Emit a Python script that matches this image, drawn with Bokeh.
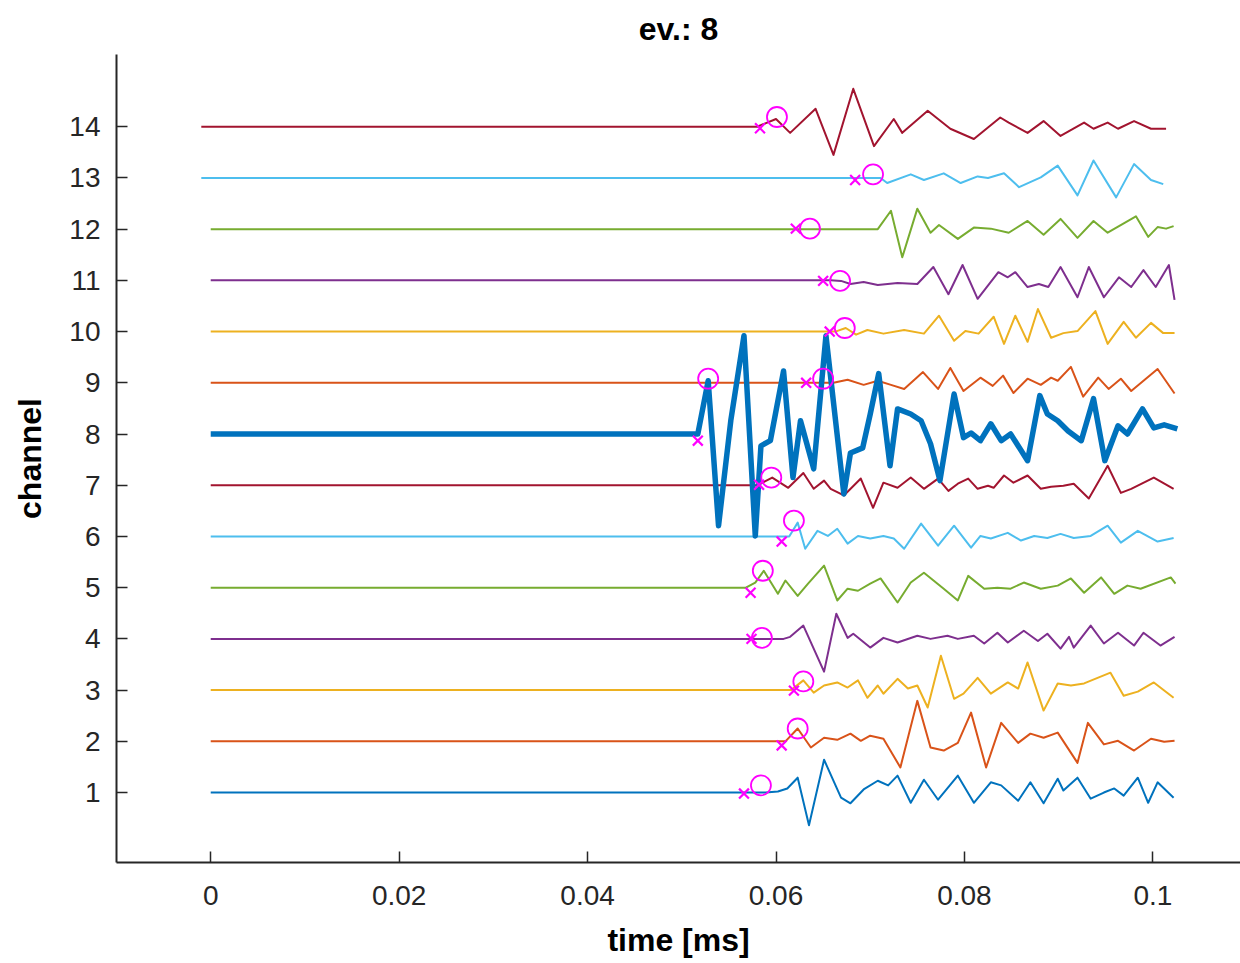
from bokeh.plotting import figure
from bokeh.models import Range1d, FixedTicker, CustomJSTickFormatter, Title
from bokeh.embed import file_html
from bokeh.resources import INLINE

# ---- data (time in ms, amplitude in channel units relative to baseline) ----
channels = list(range(1, 15))
colors = ["#0072BD", "#D95319", "#EDB120", "#7E2F8E", "#77AC30", "#4DBEEE", "#A2142F",
          "#0072BD", "#D95319", "#EDB120", "#7E2F8E", "#77AC30", "#4DBEEE", "#A2142F"]

ch1_t = [0.0, 0.0589, 0.0602, 0.0612, 0.0623, 0.0635, 0.0651, 0.0669, 0.0679, 0.0693, 0.0708, 0.0719, 0.0729, 0.0743, 0.0757, 0.0772, 0.0793, 0.0810, 0.0828, 0.0839, 0.0857, 0.0870, 0.0884, 0.0899, 0.0905, 0.0920, 0.0934, 0.0948, 0.0959, 0.0969, 0.0984, 0.0995, 0.1005, 0.1022]
ch1_a = [0, 0, 0.02, 0.08, 0.29, -0.64, 0.64, -0.10, -0.21, 0.06, 0.23, 0.14, 0.33, -0.20, 0.25, -0.14, 0.33, -0.20, 0.20, 0.14, -0.16, 0.20, -0.21, 0.27, 0.04, 0.29, -0.12, 0, 0.08, -0.06, 0.29, -0.20, 0.20, -0.10]
ch2_t = [0.0, 0.0610, 0.0623, 0.0637, 0.0651, 0.0665, 0.0679, 0.0690, 0.0700, 0.0714, 0.0732, 0.0750, 0.0764, 0.0778, 0.0793, 0.0807, 0.0823, 0.0839, 0.0857, 0.0870, 0.0884, 0.0899, 0.0920, 0.0931, 0.0948, 0.0963, 0.0980, 0.0998, 0.1012, 0.1023]
ch2_a = [0, 0, 0.25, -0.12, 0.07, 0.03, 0.15, 0.01, 0.11, 0.05, -0.51, 0.79, -0.12, -0.18, -0.03, 0.56, -0.51, 0.36, -0.03, 0.15, 0.07, 0.17, -0.42, 0.36, -0.06, 0.01, -0.18, 0.05, -0.01, 0.01]
ch3_t = [0.0, 0.0616, 0.0629, 0.0640, 0.0651, 0.0665, 0.0676, 0.0687, 0.0697, 0.0708, 0.0714, 0.0729, 0.0740, 0.0750, 0.0761, 0.0775, 0.0789, 0.0799, 0.0814, 0.0828, 0.0846, 0.0857, 0.0867, 0.0884, 0.0899, 0.0913, 0.0927, 0.0955, 0.0969, 0.0984, 0.1001, 0.1022]
ch3_a = [0, 0, 0.19, -0.05, 0.09, 0.15, 0.05, 0.19, -0.15, 0.09, -0.07, 0.22, 0.03, 0.09, -0.34, 0.67, -0.17, -0.07, 0.24, -0.07, 0.15, 0.03, 0.54, -0.40, 0.13, 0.09, 0.13, 0.34, -0.11, -0.03, 0.15, -0.15]
ch4_t = [0.0, 0.0608, 0.0615, 0.0629, 0.0651, 0.0664, 0.0676, 0.0682, 0.0700, 0.0714, 0.0729, 0.0750, 0.0764, 0.0782, 0.0793, 0.0810, 0.0821, 0.0835, 0.0846, 0.0863, 0.0878, 0.0888, 0.0902, 0.0911, 0.0916, 0.0934, 0.0948, 0.0963, 0.0980, 0.0990, 0.1008, 0.1023]
ch4_a = [0, 0, 0.04, 0.26, -0.64, 0.49, 0.02, 0.10, -0.17, 0.02, -0.07, 0.06, 0, 0.06, 0, 0.06, -0.09, 0.12, -0.07, 0.16, -0.04, 0.10, -0.19, 0.04, -0.17, 0.26, -0.09, 0.12, -0.13, 0.12, -0.13, 0.04]
ch5_t = [0.0, 0.0568, 0.0578, 0.0587, 0.0602, 0.0610, 0.0623, 0.0634, 0.0651, 0.0665, 0.0676, 0.0687, 0.0700, 0.0711, 0.0729, 0.0743, 0.0757, 0.0778, 0.0793, 0.0804, 0.0821, 0.0835, 0.0849, 0.0863, 0.0881, 0.0899, 0.0913, 0.0927, 0.0945, 0.0959, 0.0973, 0.0987, 0.1019, 0.1024]
ch5_a = [0, 0, 0.10, 0.33, -0.12, 0.14, -0.16, 0.08, 0.43, -0.25, -0.02, -0.06, 0.08, 0.18, -0.29, 0.10, 0.29, -0.02, -0.25, 0.23, -0.02, 0, -0.02, 0.10, -0.02, 0.04, 0.18, -0.10, 0.20, -0.12, 0.04, -0.02, 0.20, 0.08]
ch6_t = [0.0, 0.0614, 0.0623, 0.0631, 0.0644, 0.0655, 0.0665, 0.0676, 0.0687, 0.0700, 0.0714, 0.0725, 0.0736, 0.0754, 0.0772, 0.0789, 0.0807, 0.0817, 0.0828, 0.0846, 0.0860, 0.0874, 0.0888, 0.0902, 0.0916, 0.0934, 0.0952, 0.0966, 0.0984, 0.1005, 0.1022]
ch6_a = [0, 0, 0.27, -0.24, 0.11, 0.01, 0.15, -0.14, 0.01, -0.04, 0.01, -0.04, -0.24, 0.25, -0.18, 0.21, -0.22, 0.01, -0.04, 0.07, -0.08, 0.01, -0.03, 0.05, -0.03, 0.01, 0.21, -0.12, 0.11, -0.10, -0.03]
ch7_t = [0.0, 0.0580, 0.0596, 0.0613, 0.0629, 0.0640, 0.0651, 0.0658, 0.0672, 0.0690, 0.0703, 0.0714, 0.0729, 0.0743, 0.0757, 0.0772, 0.0783, 0.0793, 0.0804, 0.0814, 0.0825, 0.0831, 0.0842, 0.0852, 0.0867, 0.0881, 0.0892, 0.0905, 0.0916, 0.0932, 0.0952, 0.0966, 0.0977, 0.1001, 0.1022]
ch7_a = [0, 0, 0.15, -0.05, 0.24, -0.07, 0.09, -0.07, -0.20, 0.13, -0.44, 0.05, -0.05, 0.15, -0.07, 0.13, -0.11, 0.03, 0.13, -0.07, -0.01, -0.05, 0.19, 0.05, 0.19, -0.07, -0.03, -0.01, 0.03, -0.26, 0.38, -0.15, -0.07, 0.15, -0.07]
ch8_t = [0.0, 0.0517, 0.0528, 0.0539, 0.0552, 0.0566, 0.0578, 0.0584, 0.0594, 0.0608, 0.0618, 0.0626, 0.0640, 0.0653, 0.0672, 0.0679, 0.0692, 0.0700, 0.0709, 0.0721, 0.0729, 0.0743, 0.0754, 0.0764, 0.0774, 0.0789, 0.0799, 0.0807, 0.0817, 0.0828, 0.0839, 0.0849, 0.0867, 0.0880, 0.0888, 0.0899, 0.0910, 0.0924, 0.0937, 0.0949, 0.0963, 0.0973, 0.0989, 0.1001, 0.1012, 0.1026]
ch8_a = [0, 0, 1.04, -1.79, 0.26, 1.92, -1.99, -0.23, -0.13, 1.23, -0.85, 0.26, -0.68, 1.92, -1.17, -0.37, -0.27, 0.39, 1.18, -0.62, 0.49, 0.39, 0.26, -0.19, -0.91, 0.78, -0.07, 0.02, -0.13, 0.20, -0.13, 0, -0.52, 0.75, 0.39, 0.26, 0.06, -0.13, 0.69, -0.52, 0.16, 0, 0.49, 0.12, 0.18, 0.10]
ch9_t = [0.0, 0.0661, 0.0676, 0.0693, 0.0708, 0.0722, 0.0736, 0.0756, 0.0772, 0.0785, 0.0799, 0.0817, 0.0830, 0.0841, 0.0852, 0.0867, 0.0881, 0.0892, 0.0899, 0.0913, 0.0926, 0.0942, 0.0953, 0.0966, 0.0977, 0.1005, 0.1023]
ch9_a = [0, 0, 0.06, -0.04, 0.04, -0.04, -0.12, 0.21, -0.12, 0.29, -0.16, 0.10, -0.06, 0.14, -0.20, 0.08, -0.04, 0.10, 0.04, 0.31, -0.27, 0.10, -0.12, 0.08, -0.16, 0.27, -0.21]
ch10_t = [0.0, 0.0663, 0.0674, 0.0685, 0.0697, 0.0714, 0.0736, 0.0757, 0.0773, 0.0789, 0.0801, 0.0815, 0.0831, 0.0842, 0.0854, 0.0867, 0.0878, 0.0892, 0.0905, 0.0920, 0.0939, 0.0952, 0.0969, 0.0982, 0.0998, 0.1011, 0.1023]
ch10_a = [0, 0, 0.07, -0.06, 0.03, -0.04, 0.03, -0.04, 0.31, -0.18, 0.01, -0.04, 0.29, -0.24, 0.31, -0.20, 0.44, -0.12, -0.03, 0.01, 0.40, -0.24, 0.19, -0.12, 0.17, -0.03, -0.03]
ch11_t = [0.0, 0.0658, 0.0669, 0.0679, 0.0693, 0.0708, 0.0729, 0.0750, 0.0767, 0.0783, 0.0798, 0.0814, 0.0836, 0.0846, 0.0854, 0.0867, 0.0879, 0.0889, 0.0902, 0.0920, 0.0932, 0.0948, 0.0964, 0.0977, 0.0990, 0.1003, 0.1017, 0.1023]
ch11_a = [0, 0, -0.01, -0.07, -0.03, -0.09, -0.05, -0.07, 0.26, -0.27, 0.30, -0.36, 0.16, 0.06, 0.16, -0.13, -0.07, -0.13, 0.26, -0.33, 0.26, -0.33, 0.06, -0.13, 0.20, -0.13, 0.30, -0.38]
ch12_t = [0.0, 0.0708, 0.0722, 0.0734, 0.0750, 0.0764, 0.0773, 0.0793, 0.0810, 0.0828, 0.0847, 0.0867, 0.0884, 0.0902, 0.0920, 0.0937, 0.0952, 0.0982, 0.0995, 0.1005, 0.1014, 0.1022]
ch12_a = [0, 0, 0.36, -0.55, 0.40, -0.07, 0.08, -0.19, 0.03, 0.01, -0.07, 0.16, -0.11, 0.20, -0.17, 0.16, -0.07, 0.25, -0.15, 0.04, 0.01, 0.06]
ch13_t = [-0.0010, 0.0711, 0.0718, 0.0743, 0.0757, 0.0778, 0.0796, 0.0814, 0.0825, 0.0842, 0.0858, 0.0881, 0.0899, 0.0920, 0.0937, 0.0961, 0.0980, 0.0998, 0.1011]
ch13_a = [0, 0, -0.10, 0.07, -0.04, 0.09, -0.10, 0.03, 0, 0.09, -0.18, 0.01, 0.24, -0.34, 0.34, -0.38, 0.27, -0.04, -0.12]
ch14_t = [-0.0010, 0.0580, 0.0600, 0.0615, 0.0642, 0.0661, 0.0682, 0.0704, 0.0725, 0.0734, 0.0761, 0.0785, 0.0810, 0.0838, 0.0847, 0.0867, 0.0884, 0.0902, 0.0927, 0.0937, 0.0952, 0.0963, 0.0980, 0.0998, 0.1014]
ch14_a = [0, 0, 0.15, -0.12, 0.35, -0.55, 0.74, -0.38, 0.15, -0.12, 0.31, -0.04, -0.24, 0.18, 0.08, -0.12, 0.11, -0.18, 0.08, -0.04, 0.08, -0.04, 0.11, -0.04, -0.04]

# picks per channel (1..14): "x" marker and "o" marker
pick_x_t = [0.0566, 0.0606, 0.0619, 0.0574, 0.0573, 0.0606, 0.0582, 0.0517, 0.0632, 0.0657, 0.0650, 0.0621, 0.0684, 0.0583]
pick_x_a = [-0.02, -0.08, -0.01, 0, -0.10, -0.10, 0.01, -0.13, 0, 0, -0.01, 0.01, -0.04, -0.03]
pick_o_t = [0.0584, 0.0623, 0.0629, 0.0585, 0.0586, 0.0619, 0.0595, 0.0528, 0.0650, 0.0673, 0.0668, 0.0636, 0.0703, 0.0601]
pick_o_a = [0.14, 0.25, 0.17, 0.02, 0.33, 0.31, 0.15, 1.08, 0.08, 0.07, -0.01, 0.01, 0.07, 0.19]

x_ticks = [0, 0.02, 0.04, 0.06, 0.08, 0.1]
y_ticks = channels
title_text = "ev.: 8"
x_label = "time [ms]"
y_label = "channel"
highlight = 8

traces_t = [ch1_t, ch2_t, ch3_t, ch4_t, ch5_t, ch6_t, ch7_t, ch8_t, ch9_t, ch10_t, ch11_t, ch12_t, ch13_t, ch14_t]
traces_a = [ch1_a, ch2_a, ch3_a, ch4_a, ch5_a, ch6_a, ch7_a, ch8_a, ch9_a, ch10_a, ch11_a, ch12_a, ch13_a, ch14_a]

FONT = "Liberation Sans"
INK = "#262626"

p = figure(width=1240, height=963,
           x_range=Range1d(-0.01, 0.1093), y_range=Range1d(-0.366, 15.41),
           output_backend="svg", toolbar_location=None,
           min_border_left=116, min_border_right=0, min_border_top=53, min_border_bottom=101,
           background_fill_color="white", border_fill_color="white")
p.outline_line_color = None
p.xgrid.visible = False
p.ygrid.visible = False

p.title = Title(text=title_text, align="center", text_font=FONT, text_font_size="32px",
                text_font_style="bold", text_color="#000000", standoff=16)

for ax, ticks in ((p.xaxis, x_ticks), (p.yaxis, y_ticks)):
    ax.ticker = FixedTicker(ticks=ticks)
    ax.minor_tick_line_color = None
    ax.major_tick_in = 11
    ax.major_tick_out = 0
    ax.major_tick_line_width = 1.5
    ax.major_tick_line_color = INK
    ax.axis_line_color = INK
    ax.axis_line_width = 2
    ax.major_label_text_font = FONT
    ax.major_label_text_font_size = "28px"
    ax.major_label_text_color = INK
    ax.axis_label_text_font = FONT
    ax.axis_label_text_font_size = "32px"
    ax.axis_label_text_font_style = "bold"
    ax.axis_label_text_color = "#000000"

p.xaxis.formatter = CustomJSTickFormatter(
    code="var s = tick.toFixed(2); s = s.replace(/0+$/, ''); return s.replace(/\\.$/, '');")
p.xaxis.axis_label = x_label
p.yaxis.axis_label = y_label
p.xaxis.major_label_standoff = 23
p.xaxis.axis_label_standoff = 14
p.yaxis.major_label_standoff = 16
p.yaxis.axis_label_standoff = 18

# thin traces first, highlighted trace on top
order = [c for c in channels if c != highlight] + [highlight]
for ch in order:
    i = ch - 1
    ts, amps = traces_t[i], traces_a[i]
    n = min(len(ts), len(amps))
    ys = [ch + a for a in amps[:n]]
    lw = 5.5 if ch == highlight else 2
    p.line(ts[:n], ys, line_color=colors[i], line_width=lw, line_join="round")

xs_y = [c + a for c, a in zip(channels, pick_x_a)]
os_y = [c + a for c, a in zip(channels, pick_o_a)]
p.scatter(pick_x_t, xs_y, marker="x", size=14, line_color="#FF00FF", line_width=2.2)
p.scatter(pick_o_t, os_y, marker="circle", size=20, fill_color=None,
          line_color="#FF00FF", line_width=1.8)

open("out.html", "w").write(file_html(p, INLINE))
